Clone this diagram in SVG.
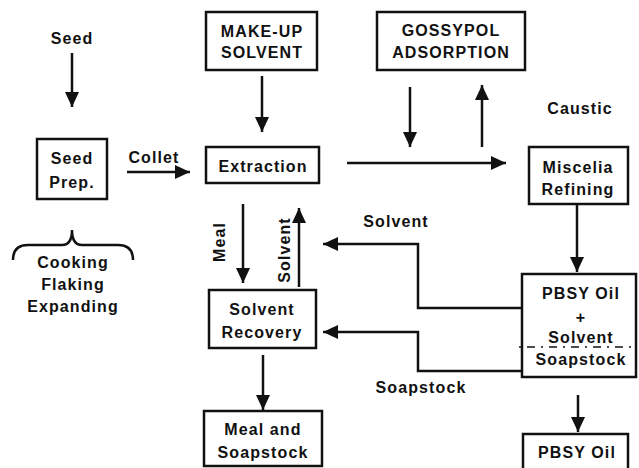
<svg xmlns="http://www.w3.org/2000/svg" width="639" height="468" viewBox="0 0 639 468">
<defs>
<marker id="ah" markerUnits="userSpaceOnUse" markerWidth="16" markerHeight="14" refX="15" refY="7" orient="auto">
<path d="M0,0 L15,7 L0,14 Z" fill="#111"/>
</marker>
<style>
text{font-family:"Liberation Sans",Arial,sans-serif;font-weight:bold;font-size:16px;letter-spacing:1.1px;fill:#111;text-anchor:middle;dominant-baseline:central}
.box{fill:#fff;stroke:#111;stroke-width:2.5}
.c{fill:none;stroke:#111;stroke-width:2.5}
.a{fill:none;stroke:#111;stroke-width:2.5;marker-end:url(#ah)}
</style>
</defs>
<rect width="639" height="468" fill="#fff"/>
<g id="connectors">
<path class="a" d="M72,53 V107"/>
<path class="a" d="M127,172 H190"/>
<path class="a" d="M262,76 V132"/>
<path class="a" d="M410,87 V147"/>
<path class="a" d="M482,147 V85"/>
<path class="a" d="M347,163 H506"/>
<path class="a" d="M577,204 V272"/>
<path class="a" d="M243,204 V283"/>
<path class="a" d="M299,287 V208"/>
<path class="a" d="M522,308 H418 V244 H323"/>
<path class="a" d="M522,371 H418 V332 H323"/>
<path class="a" d="M263,355 V410"/>
<path class="a" d="M578,395 V432"/>
<path class="c" d="M13,260 Q13,245 28,245 H62 Q72,245 72,230 Q72,245 82,245 H118 Q133,245 133,260"/>
</g>
<g id="seed-label"><text x="72" y="38">Seed</text></g>
<g id="seed-prep"><rect class="box" x="37" y="139" width="70" height="60"/><text x="72" y="158">Seed</text><text x="72" y="182">Prep.</text></g>
<g id="collet-label"><text x="154" y="157">Collet</text></g>
<g id="make-up"><rect class="box" x="206" y="12" width="111" height="58"/><text x="262" y="31">MAKE-UP</text><text x="262" y="52">SOLVENT</text></g>
<g id="extraction"><rect class="box" x="206" y="147" width="113" height="36"/><text x="263" y="166">Extraction</text></g>
<g id="gossypol"><rect class="box" x="377" y="12" width="148" height="58"/><text x="451" y="30">GOSSYPOL</text><text x="451" y="52">ADSORPTION</text></g>
<g id="caustic-label"><text x="580" y="108">Caustic</text></g>
<g id="miscelia"><rect class="box" x="529" y="147" width="99" height="57"/><text x="578" y="167">Miscelia</text><text x="578" y="189">Refining</text></g>
<g id="solvent-label"><text x="396" y="221">Solvent</text></g>
<g id="meal-label"><text transform="translate(219,242) rotate(-90)" x="0" y="0">Meal</text></g>
<g id="solvent-vlabel"><text transform="translate(284,250) rotate(-90)" x="0" y="0">Solvent</text></g>
<g id="brace-labels"><text x="73" y="262">Cooking</text><text x="73" y="284">Flaking</text><text x="73" y="306">Expanding</text></g>
<g id="solvent-recovery"><rect class="box" x="209" y="290" width="107" height="58"/><text x="262" y="309">Solvent</text><text x="262" y="332">Recovery</text></g>
<g id="pbsy-mix"><rect class="box" x="522" y="274" width="114" height="103"/><text x="581" y="293">PBSY Oil</text><text x="581" y="317">+</text><text x="581" y="337">Solvent</text><path d="M519,347 H634" stroke="#111" stroke-width="1.5" stroke-dasharray="2 6 8 6"/><text x="581" y="359">Soapstock</text></g>
<g id="soapstock-label"><text x="421" y="387">Soapstock</text></g>
<g id="meal-soapstock"><rect class="box" x="204" y="411" width="118" height="55"/><text x="263" y="429">Meal and</text><text x="263" y="452">Soapstock</text></g>
<g id="pbsy-oil"><rect class="box" x="523" y="434" width="105" height="40"/><text x="577" y="452">PBSY Oil</text></g>
</svg>
